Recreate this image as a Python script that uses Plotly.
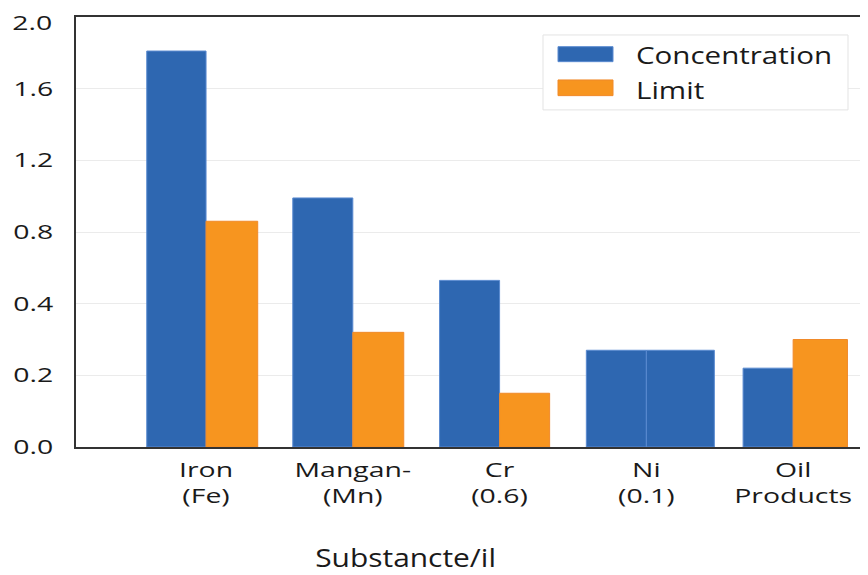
import numpy as np
import plotly.graph_objects as go

# ---- data ----
categories = ["Iron<br>(Fe)", "Mangan-<br>(Mn)", "Cr<br>(0.6)", "Ni<br>(0.1)", "Oil<br>Products"]
concentration = [1.81, 0.99, 0.53, 0.27, 0.22]
limit = [0.86, 0.32, 0.15, 0.27, 0.30]
y_tick_values = [0.0, 0.2, 0.4, 0.8, 1.2, 1.6, 2.0]
y_tick_labels = ["0.0", "0.2", "0.4", "0.8", "1.2", "1.6", "2.0"]

# ---- styles ----
BLUE = "#2e67b1"
ORANGE = "#f7951f"
BLUE_EDGE = "#5a8ad0"
ORANGE_EDGE = "#f08a2a"
conc_widths = [0.404, 0.409, 0.409, 0.409, 0.341]
limit_widths = [0.352, 0.347, 0.341, 0.463, 0.370]
limit_colors = [ORANGE, ORANGE, ORANGE, BLUE, ORANGE]
limit_edges = [ORANGE_EDGE, ORANGE_EDGE, ORANGE_EDGE, BLUE_EDGE, ORANGE_EDGE]
FONT = "Open Sans"
TXT = "#1a1a1a"

# the value axis is evenly spaced between the (uneven) tick labels
tick_pos = np.arange(len(y_tick_values))
def scale(vals):
    return np.interp(vals, y_tick_values, tick_pos)

x = np.arange(len(categories))

fig = go.Figure()
fig.add_trace(go.Bar(
    x=x, y=scale(concentration), customdata=concentration,
    width=conc_widths, offset=[-w for w in conc_widths],
    marker=dict(color=BLUE, line=dict(color=BLUE_EDGE, width=1)),
    name="Concentration", hovertemplate="%{customdata}<extra>Concentration</extra>",
))
fig.add_trace(go.Bar(
    x=x, y=scale(limit), customdata=limit,
    width=limit_widths, offset=[0] * len(limit_widths),
    marker=dict(color=limit_colors, line=dict(color=limit_edges, width=1)),
    name="Limit", hovertemplate="%{customdata}<extra>Limit</extra>",
))

PAGE = 8  # default body margin of the html page
W, H = 860, 567
L, R, T = 68, 0, 9
ph = 430.4
B = H - T - ph
pw = W - L - R
def px(xp):  # page pixel -> paper
    return (xp - PAGE - L) / pw
def py(yp):
    return (T + ph - (yp - PAGE)) / ph

shapes = [
    dict(type="rect", xref="paper", yref="paper", x0=px(543), x1=px(848), y0=py(110), y1=py(35),
         line=dict(color="#e3e3e3", width=1), fillcolor="white", layer="above"),
    dict(type="rect", xref="paper", yref="paper", x0=px(558), x1=px(613), y0=py(61.7), y1=py(46.7),
         line=dict(color=BLUE_EDGE, width=1), fillcolor=BLUE),
    dict(type="rect", xref="paper", yref="paper", x0=px(558), x1=px(613), y0=py(95.7), y1=py(80),
         line=dict(color=ORANGE_EDGE, width=1), fillcolor=ORANGE),
]
annotations = [
    dict(text="Concentration", xref="paper", yref="paper", x=px(634), y=py(55), xanchor="left",
         align="left", yanchor="middle", showarrow=False, font=dict(family=FONT, size=24, color=TXT)),
    dict(text="Limit", xref="paper", yref="paper", x=px(634), y=py(89.5), xanchor="left",
         align="left", yanchor="middle", showarrow=False, font=dict(family=FONT, size=24, color=TXT)),
    dict(text="Substancte/il", xref="paper", yref="paper", x=px(405.5), y=py(558), xanchor="center",
         yanchor="middle", showarrow=False, font=dict(family=FONT, size=26, color=TXT)),
    # top tick label (drawn as annotation so it is not dropped at the figure edge)
    dict(text=y_tick_labels[-1], xref="paper", yref="paper", x=px(53), y=py(PAGE), xanchor="right",
         align="right", yanchor="top", borderpad=0, showarrow=False,
         font=dict(family=FONT, size=20, color=TXT)),
]

fig.update_layout(
    width=W, height=H, margin=dict(l=L, r=R, t=T, b=B),
    paper_bgcolor="white", plot_bgcolor="white",
    barmode="overlay", showlegend=False,
    font=dict(family=FONT, color=TXT),
    shapes=shapes, annotations=annotations,
    xaxis=dict(range=[-0.886, 4.51], tickmode="array", tickvals=x, ticktext=categories,
               showline=True, mirror=True, linecolor="#333333", linewidth=1.5,
               showgrid=False, zeroline=False, ticks="", ticklabelstandoff=4,
               tickfont=dict(family=FONT, size=20, color=TXT)),
    yaxis=dict(range=[0, 6], tickmode="array", tickvals=tick_pos[:-1], ticktext=y_tick_labels[:-1],
               showline=True, linecolor="#333333", linewidth=1.5,
               showgrid=True, gridcolor="#ebebeb", gridwidth=1, zeroline=False,
               ticks="", ticklabelstandoff=17,
               tickfont=dict(family=FONT, size=20, color=TXT)),
)

# the reference text is horizontally wide; stretch the glyphs to match
post = """
var gd = document.getElementById('{plot_id}');
function stretchEl(el, f) {
  var w = el.getComputedTextLength();
  if (w > 0) {
    el.setAttribute('textLength', (w * f).toFixed(2));
    el.setAttribute('lengthAdjust', 'spacingAndGlyphs');
  }
}
function stretchText(t, f) {
  var lines = t.querySelectorAll('tspan.line');
  if (lines.length) { lines.forEach(function (s) { stretchEl(s, f); }); }
  else { stretchEl(t, f); }
}
gd.querySelectorAll('.xtick text').forEach(function (t) { stretchText(t, 1.42); });
gd.querySelectorAll('.ytick text').forEach(function (t) { stretchText(t, 1.42); });
var ann = gd.querySelectorAll('.annotation-text');
var f = [1.23, 1.23, 1.15, 1.42];
ann.forEach(function (t, i) { stretchText(t, f[i] || 1); });
"""

fig.write_html("out.html", post_script=post)
